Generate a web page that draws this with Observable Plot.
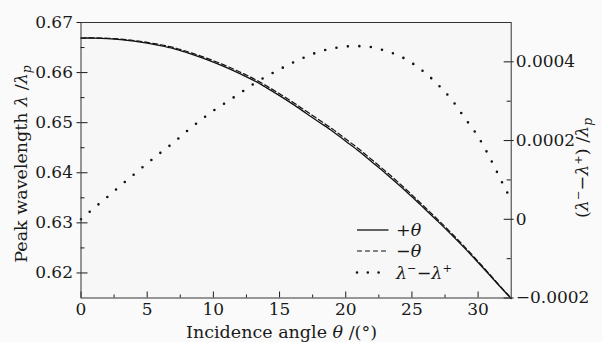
<!DOCTYPE html>
<html><head><meta charset="utf-8">
<script src="https://cdn.jsdelivr.net/npm/d3@7"></script>
<script src="https://cdn.jsdelivr.net/npm/@observablehq/plot@0.6"></script>
<style>
body{margin:0;background:#fafafa;}
#wrap{position:relative;width:602px;height:342px;}
#wrap svg{display:block;}
</style></head><body><div id="wrap"></div>
<script>
// Incidence angle (deg)
const theta = [0,1,2,3,4,5,6,7,8,9,10,11,12,13,14,15,16,17,18,19,20,21,22,23,24,25,26,27,28,29,30,31,32,32.5];
// +theta peak wavelength (lambda/lambda_p)
const lambdaPlus = [0.6669,0.6669,0.6668,0.6666,0.6663,0.6659,0.6654,0.6648,0.6640,0.6631,0.6621,0.6610,0.6598,0.6585,0.6570,0.6554,0.6537,0.6519,0.6501,0.6483,0.6463,0.6443,0.6421,0.6399,0.6376,0.6352,0.6327,0.6302,0.6276,0.6249,0.6221,0.6192,0.6163,0.6149];
// -theta peak wavelength
const lambdaMinus = [0.66690,0.66693,0.66686,0.66669,0.66641,0.66604,0.66557,0.66500,0.66422,0.66335,0.66238,0.66130,0.66012,0.65884,0.65736,0.65578,0.65410,0.65231,0.65053,0.64873,0.64674,0.64474,0.64254,0.64033,0.63802,0.63560,0.63307,0.63054,0.62790,0.62516,0.62231,0.61935,0.61638,0.61495];
// (lambda- - lambda+)/lambda_p, right axis
const diff = [0,0.000029,0.000057,0.000086,0.000114,0.000142,0.000169,0.000195,0.000224,0.000251,0.000276,0.000298,0.000320,0.000343,0.000363,0.000381,0.000398,0.000413,0.000426,0.000434,0.000439,0.000440,0.000437,0.000428,0.000416,0.000397,0.000372,0.000341,0.000304,0.000257,0.000210,0.000149,0.000081,0.000050];

const xTicks = [0,5,10,15,20,25,30];
const xMinor = [2.5,7.5,12.5,17.5,22.5,27.5];
const yTicks = [0.62,0.63,0.64,0.65,0.66,0.67];
const yMinor = [0.625,0.635,0.645,0.655,0.665];
const rTicks = [-0.0002,0,0.0002,0.0004];
const rMinor = [-0.0001,0.0001,0.0003];
const xDomain = [0,32.5];
const yDomain = [0.615,0.67];
const rDomain = [-0.0002,0.0005];
const legendLabels = ["+θ","−θ","λ⁻−λ⁺"];

const W = 602, H = 342;
const mL = 80.5, mR = 91.3, mT = 22, mB = 44.5;
const pw = W - mL - mR, ph = H - mT - mB;
const FONT = "'DejaVu Serif', 'Liberation Serif', 'Times New Roman', serif";

const toLeft = d3.scaleLinear().domain(rDomain).range(yDomain);
const rows = theta.map((t,i)=>({t, p: lambdaPlus[i], m: lambdaMinus[i], d: diff[i]}));
const fmtR = v => Math.abs(v) < 1e-9 ? "0" : (v < 0 ? "−" : "") + Math.abs(v).toFixed(4);

const ink = "#1a1a1a";
const FS = 17;
const chart = Plot.plot({
  width: W, height: H,
  marginLeft: mL, marginRight: mR, marginTop: mT, marginBottom: mB,
  style: {fontFamily: FONT, fontSize: FS + "px", background: "#fafafa", color: ink},
  x: {domain: xDomain},
  y: {domain: yDomain},
  marks: [
    Plot.rect([0], {x1: xDomain[0], x2: xDomain[1], y1: yDomain[0], y2: yDomain[1], fill: "#f7f7f7"}),
    // ticks (inward, left/right majors cross frame)
    Plot.tickX(xTicks, {x: d=>d, stroke: ink, insetTop: ph - 6}),
    Plot.tickX(xMinor, {x: d=>d, stroke: ink, insetTop: ph - 3}),
    Plot.tickY(yTicks, {y: d=>d, stroke: ink, insetLeft: -4, insetRight: pw - 7}),
    Plot.tickY(yMinor, {y: d=>d, stroke: ink, insetRight: pw - 4}),
    Plot.tickY(rTicks, {y: d=>toLeft(d), stroke: ink, insetRight: -3, insetLeft: pw - 7}),
    Plot.tickY(rMinor, {y: d=>toLeft(d), stroke: ink, insetLeft: pw - 4}),
    // labels
    Plot.axisX({ticks: xTicks, tickSize: 0, tickPadding: 5, label: null, tickFormat: d=>String(d), fill: ink, fontSize: FS}),
    Plot.axisY({ticks: yTicks, tickSize: 0, tickPadding: 8, label: null, tickFormat: d3.format(".2f"), fill: ink, fontSize: FS}),
    Plot.axisY({anchor: "right", ticks: rTicks.map(toLeft), tickSize: 0, tickPadding: 4.5, label: null, tickFormat: d => fmtR(toLeft.invert(d)), fill: ink, fontSize: FS}),
    // data
    Plot.line(rows, {x: "t", y: "p", stroke: "#111", strokeWidth: 1.3, curve: "catmull-rom"}),
    Plot.line(rows, {x: "t", y: "m", stroke: "#111", strokeWidth: 1.2, strokeDasharray: "5,3", curve: "catmull-rom"}),
    Plot.line(rows, {x: "t", y: d => toLeft(d.d), stroke: "#111", strokeWidth: 2.6, strokeDasharray: "0,11.5", strokeLinecap: "round", curve: "catmull-rom"}),
    Plot.frame({stroke: "#333", strokeWidth: 1})
  ]
});
document.getElementById("wrap").appendChild(chart);

const svg = d3.select(chart);
const fs = "17.5px";
// x title
const xt = svg.append("text").attr("x", 281.5).attr("y", 337.5).attr("text-anchor", "middle")
  .attr("font-size", fs).attr("fill", ink);
xt.append("tspan").text("Incidence angle ");
xt.append("tspan").attr("font-style", "italic").text("θ");
xt.append("tspan").text(" /(°)");
// left y title
const yt = svg.append("text").attr("transform", "translate(27,164) rotate(-90)").attr("text-anchor", "middle")
  .attr("font-size", fs).attr("fill", ink);
yt.append("tspan").text("Peak wavelength ");
yt.append("tspan").attr("font-style", "italic").text("λ");
yt.append("tspan").text(" /");
yt.append("tspan").attr("font-style", "italic").text("λ");
yt.append("tspan").attr("font-style", "italic").attr("font-size", "0.7em").attr("dy", "0.35em").text("p");
// right y title
const rt = svg.append("text").attr("transform", "translate(588,168) rotate(-90)").attr("text-anchor", "middle")
  .attr("font-size", fs).attr("fill", ink);
rt.append("tspan").text("(");
rt.append("tspan").attr("font-style", "italic").text("λ");
rt.append("tspan").attr("font-size", "0.65em").attr("dy", "-0.55em").text("−");
rt.append("tspan").attr("font-size", fs).attr("dy", "0.36em").text("−");
rt.append("tspan").attr("font-style", "italic").text("λ");
rt.append("tspan").attr("font-size", "0.65em").attr("dy", "-0.55em").text("+");
rt.append("tspan").attr("font-size", fs).attr("dy", "0.36em").text(") /");
rt.append("tspan").attr("font-style", "italic").text("λ");
rt.append("tspan").attr("font-style", "italic").attr("font-size", "0.7em").attr("dy", "0.35em").text("p");

// legend
const lg = svg.append("g").attr("fill", ink).attr("font-size", fs).attr("text-anchor", "start");
const styles = [
  {dash: null, w: 1.3, cap: "butt"},
  {dash: "5,3", w: 1.2, cap: "butt"},
  {dash: "0,10.8", w: 2.6, cap: "round"}
];
const ly = [230, 251, 272.5];
legendLabels.forEach((lab, i) => {
  const s = styles[i];
  lg.append("line").attr("x1", 357).attr("x2", i === 2 ? 379 : 388.5).attr("y1", ly[i]).attr("y2", ly[i])
    .attr("stroke", "#111").attr("stroke-width", s.w).attr("stroke-linecap", s.cap)
    .attr("stroke-dasharray", s.dash);
  const t = lg.append("text").attr("x", 396).attr("y", ly[i] + 6).attr("text-anchor", "start");
  if (i === 2) {
    t.append("tspan").attr("font-style", "italic").text("λ");
    t.append("tspan").attr("font-size", "0.65em").attr("dy", "-0.55em").text("−");
    t.append("tspan").attr("font-size", fs).attr("dy", "0.36em").text("−");
    t.append("tspan").attr("font-style", "italic").text("λ");
    t.append("tspan").attr("font-size", "0.65em").attr("dy", "-0.55em").text("+");
  } else {
    t.append("tspan").text(lab[0]);
    t.append("tspan").attr("font-style", "italic").text("θ");
  }
});
// force serif face on every text node
svg.selectAll("text, tspan").attr("font-family", FONT).style("font-family", FONT, "important");
svg.selectAll("g").style("font-family", FONT, "important");
</script>
</body></html>
